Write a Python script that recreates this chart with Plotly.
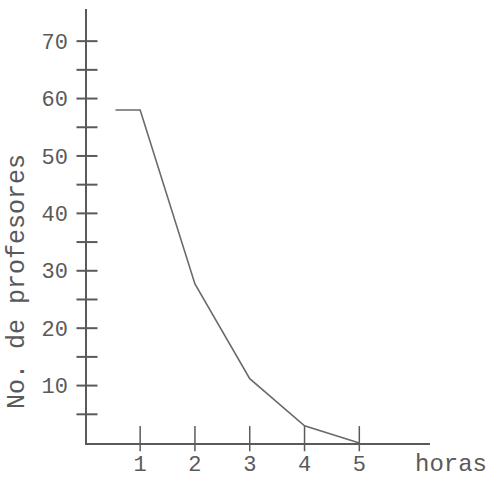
import plotly.graph_objects as go

# data
horas = [0.55, 1, 2, 3, 4, 5]
profesores = [58, 58, 27.7, 11.2, 3, 0]
x_ticks = [1, 2, 3, 4, 5]
y_ticks = [10, 20, 30, 40, 50, 60, 70]
y_minor = [5, 15, 25, 35, 45, 55, 65]

ink = "#5a5a5a"
font_mono = "Liberation Mono, Courier New, monospace"

fig = go.Figure()

# main curve
fig.add_trace(go.Scatter(x=horas, y=profesores, mode="lines",
                         line=dict(color="#6a6a6a", width=1.6),
                         hoverinfo="skip", showlegend=False))

# y tick marks crossing axis
fig.add_trace(go.Scatter(x=[0.03] * (len(y_ticks) + len(y_minor)),
                         y=y_ticks + y_minor, mode="markers",
                         marker=dict(symbol="line-ew", size=15,
                                     line=dict(color=ink, width=2)),
                         cliponaxis=False, hoverinfo="skip", showlegend=False))
# x tick marks crossing axis (mostly above)
fig.add_trace(go.Scatter(x=x_ticks, y=[0.75] * len(x_ticks), mode="markers",
                         marker=dict(symbol="line-ns", size=18,
                                     line=dict(color=ink, width=1.5)),
                         cliponaxis=False, hoverinfo="skip", showlegend=False))

fig.update_layout(
    width=489, height=478,
    margin=dict(l=87, r=59, t=9, b=35),
    paper_bgcolor="white", plot_bgcolor="white",
    font=dict(family=font_mono, color=ink),
    xaxis=dict(range=[0.03, 6.29], showgrid=False, zeroline=False,
               showline=True, linecolor=ink, linewidth=1.6,
               tickvals=x_ticks, ticktext=[str(v) for v in x_ticks],
               ticks="", tickfont=dict(size=22, color=ink),
               ticklabelstandoff=0, automargin=False),
    yaxis=dict(range=[0, 75.6], showgrid=False, zeroline=False,
               showline=True, linecolor=ink, linewidth=1.6,
               tickvals=y_ticks, ticktext=[str(v) for v in y_ticks],
               ticks="", tickfont=dict(size=22, color=ink),
               ticklabelstandoff=13, automargin=False),
    annotations=[
        dict(text="No. de profesores", xref="paper", yref="paper",
             x=(17 - 87) / 343, y=(443 - 282) / 434, textangle=-90,
             showarrow=False, xanchor="center", yanchor="middle",
             font=dict(size=25, family=font_mono, color=ink)),
        dict(text="horas", xref="paper", yref="paper",
             x=(413 - 87) / 343, y=(443 - 465) / 434,
             showarrow=False, xanchor="left", yanchor="middle",
             font=dict(size=24, family=font_mono, color=ink)),
    ],
)

fig.write_html("out.html",
               config={"displayModeBar": False, "staticPlot": True},
               post_script="document.body.style.margin='0';"
                           "document.body.style.overflow='hidden';")
